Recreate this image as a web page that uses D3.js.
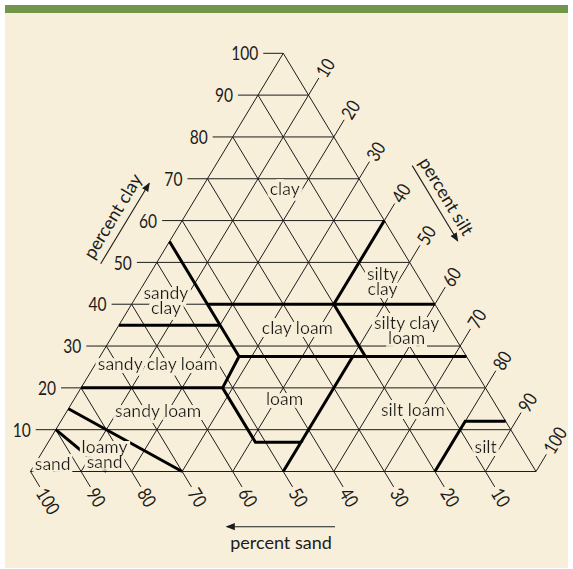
<!DOCTYPE html>
<html><head><meta charset="utf-8">
<script src="https://cdn.jsdelivr.net/npm/d3@7"></script>
<style>html,body{margin:0;padding:0;background:#fff;} svg{display:block;}</style>
</head><body>
<svg id="chart" width="573" height="569"></svg>
<script>
// ---------- data ----------
const gridSteps = [10, 20, 30, 40, 50, 60, 70, 80, 90];
const tickValues = [10, 20, 30, 40, 50, 60, 70, 80, 90, 100];
const clayTickLabels = ["10", "20", "30", "40", "50", "60", "70", "80", "90", "100"];
const siltTickLabels = ["10", "20", "30", "40", "50", "60", "70", "80", "90", "100"];
const sandTickLabels = ["10", "20", "30", "40", "50", "60", "70", "80", "90", "100"];
const axisTitles = ["percent clay", "percent silt", "percent sand"];
// texture-class boundaries, points as [sand, silt, clay] percent
const boundaries = [
  [[45, 0, 55], [45, 27.5, 27.5], [52, 28, 20], [52, 41, 7], [43, 50, 7], [50, 50, 0]],
  [[65, 0, 35], [45, 20, 35]],
  [[80, 0, 20], [52, 28, 20]],
  [[45, 15, 40], [0, 60, 40]],
  [[0, 40, 60], [20, 40, 40], [20, 52.5, 27.5]],
  [[45, 27.5, 27.5], [0, 72.5, 27.5]],
  [[22.5, 50, 27.5], [43, 50, 7]],
  [[20, 80, 0], [8, 80, 12], [0, 88, 12]],
  [[85, 0, 15], [70, 30, 0]],
  [[90, 0, 10], [85, 15, 0]]
];
// class names (lines) and label anchor as [silt, clay] percent
const classNames = [
  ["clay"], ["sandy", "clay"], ["silty", "clay"], ["silty clay", "loam"],
  ["clay loam"], ["sandy clay loam"], ["loam"], ["sandy loam"],
  ["silt loam"], ["loamy", "sand"], ["sand"], ["silt"]
];
const classAnchors = [
  [16.4, 67.8], [5.3, 43.0], [45.9, 47.5], [56.5, 35.8],
  [35.5, 34.6], [12.2, 26.0], [41.5, 17.5], [17.9, 14.7],
  [68.2, 14.9], [11.6, 6.1], [3.4, 2.0], [87.0, 6.1]
];

// ---------- layout ----------
const BG = "#F7EFD9", GREEN = "#71954A", INK = "#1c1c1c";
const FONT = "Lato, 'Open Sans', sans-serif";
const svg = d3.select("#chart");
const defs = svg.append("defs");
svg.append("rect").attr("x", 5).attr("y", 5).attr("width", 563).attr("height", 563).attr("fill", BG);
svg.append("rect").attr("x", 5).attr("y", 5).attr("width", 563).attr("height", 8).attr("fill", GREEN);

// halo filter (knocks out lines behind class labels)
const f = defs.append("filter").attr("id", "halo").attr("x", "-20%").attr("y", "-20%")
  .attr("width", "140%").attr("height", "140%");
f.append("feMorphology").attr("in", "SourceAlpha").attr("operator", "dilate").attr("radius", 3.2).attr("result", "d");
f.append("feFlood").attr("flood-color", BG).attr("result", "c");
f.append("feComposite").attr("in", "c").attr("in2", "d").attr("operator", "in").attr("result", "h");
const fm = f.append("feMerge");
fm.append("feMergeNode").attr("in", "h");
fm.append("feMergeNode").attr("in", "SourceGraphic");

const x = d3.scaleLinear().domain([0, 100]).range([30.5, 536]);
const y = d3.scaleLinear().domain([0, 100]).range([471.5, 53.3]);
// ternary projection: silt t, clay c
const P = (t, c) => [x(t + c / 2), y(c)];
const Pp = d => P(d[1], d[2]);

const ang = Math.atan2(y(100) - y(0), x(50) - x(0)); // left edge direction (up-right)
const u = [Math.cos(ang), Math.sin(ang)];           // up-right unit
const v = [Math.cos(ang), -Math.sin(ang)];          // down-right unit
const angDeg = ang * 180 / Math.PI;                 // ~ -59

const g = svg.append("g");
const line = d3.line();

// grid
const grid = g.append("g").attr("stroke", INK).attr("stroke-width", 1).attr("fill", "none");
gridSteps.forEach(k => {
  grid.append("path").attr("d", line([P(0, k), P(100 - k, k)]));          // clay
  grid.append("path").attr("d", line([P(k, 0), P(k, 100 - k)]));          // silt
  grid.append("path").attr("d", line([P(100 - k, 0), P(0, 100 - k)]));    // sand
});
grid.append("path").attr("d", line([P(0, 0), P(100, 0), P(0, 100)]) + "Z");

// ticks + labels
const TL = 20, GAP = 3;
const tickG = g.append("g").attr("stroke", INK).attr("stroke-width", 1);
const labG = g.append("g").attr("font-family", FONT).attr("font-size", 19).attr("fill", INK);
tickValues.forEach((k, i) => {
  // clay
  const a = P(0, k);
  tickG.append("line").attr("x1", a[0]).attr("y1", a[1]).attr("x2", a[0] - TL).attr("y2", a[1]);
  labG.append("text").attr("transform", `translate(${a[0] - TL - 5},${a[1]}) scale(0.82,1)`)
    .attr("text-anchor", "end").attr("dominant-baseline", "central").text(clayTickLabels[i]);
  // silt (right edge)
  const b = P(k, 100 - k);
  const be = [b[0] + TL * u[0], b[1] + TL * u[1]];
  tickG.append("line").attr("x1", b[0]).attr("y1", b[1]).attr("x2", be[0]).attr("y2", be[1]);
  labG.append("text").attr("transform",
    `translate(${be[0] + GAP * u[0]},${be[1] + GAP * u[1]}) rotate(${angDeg}) scale(0.82,1)`)
    .attr("dominant-baseline", "central").text(siltTickLabels[i]);
  // sand (bottom)
  const c = P(100 - k, 0);
  const ce = [c[0] + (TL - 2) * v[0], c[1] + (TL - 2) * v[1]];
  tickG.append("line").attr("x1", c[0]).attr("y1", c[1]).attr("x2", ce[0]).attr("y2", ce[1]);
  labG.append("text").attr("transform",
    `translate(${ce[0] + GAP * v[0]},${ce[1] + GAP * v[1]}) rotate(${-angDeg}) scale(0.82,1)`)
    .attr("dominant-baseline", "central").text(sandTickLabels[i]);
});

// boundaries
g.append("g").attr("stroke", "#000").attr("stroke-width", 3).attr("fill", "none")
  .attr("stroke-linejoin", "miter")
  .selectAll("path").data(boundaries).join("path")
  .attr("d", d => line(d.map(Pp)));

// class labels (one text per class, lines as tspans), with halo filter
const LS = 15.5;
const cl = g.append("g").attr("font-family", FONT).attr("font-size", 17.5)
  .attr("text-anchor", "middle").attr("fill", INK).attr("filter", "url(#halo)");
classNames.forEach((lines, i) => {
  const p = P(classAnchors[i][0], classAnchors[i][1]);
  const t = cl.append("text").attr("x", p[0]).attr("y", p[1]).attr("dominant-baseline", "central");
  lines.forEach((s, j) => {
    t.append("tspan").attr("x", p[0]).attr("y", p[1] + j * LS).attr("dominant-baseline", "central").text(s);
  });
});

// axis titles with arrows
defs.append("marker").attr("id", "arr").attr("viewBox", "0 0 10 10")
  .attr("refX", 9).attr("refY", 5).attr("markerWidth", 9).attr("markerHeight", 9)
  .attr("markerUnits", "userSpaceOnUse").attr("orient", "auto")
  .append("path").attr("d", "M0,1 L10,5 L0,9 Z").attr("fill", INK);

const tg = g.append("g").attr("font-family", FONT).attr("font-size", 18).attr("fill", INK);
const ag = g.append("g").attr("stroke", INK).attr("stroke-width", 1.1);
// clay (left)
{
  const m = [125, 223.5], L = 47;
  ag.append("line").attr("x1", m[0] - L * u[0]).attr("y1", m[1] - L * u[1])
    .attr("x2", m[0] + L * u[0]).attr("y2", m[1] + L * u[1]).attr("marker-end", "url(#arr)");
  const n = [u[1], -u[0]]; // perpendicular up-left
  tg.append("text").attr("transform", `translate(${m[0] + 15 * n[0]},${m[1] + 15 * n[1]}) rotate(${angDeg})`)
    .attr("text-anchor", "middle").attr("dominant-baseline", "central").text(axisTitles[0]);
}
// silt (right)
{
  const m = [435, 203.3], L = 44;
  ag.append("line").attr("x1", m[0] - L * v[0]).attr("y1", m[1] - L * v[1])
    .attr("x2", m[0] + L * v[0]).attr("y2", m[1] + L * v[1]).attr("marker-end", "url(#arr)");
  const n = [v[1], -v[0]]; // perpendicular up-right
  tg.append("text").attr("transform", `translate(${m[0] + 14 * n[0]},${m[1] + 14 * n[1]}) rotate(${-angDeg})`)
    .attr("text-anchor", "middle").attr("dominant-baseline", "central").text(axisTitles[1]);
}
// sand (bottom)
{
  ag.append("line").attr("x1", 335).attr("y1", 526.7).attr("x2", 226.7).attr("y2", 526.7)
    .attr("marker-end", "url(#arr)");
  tg.append("text").attr("x", 281).attr("y", 541.5).attr("text-anchor", "middle")
    .attr("dominant-baseline", "central").text(axisTitles[2]);
}
</script>
</body></html>
